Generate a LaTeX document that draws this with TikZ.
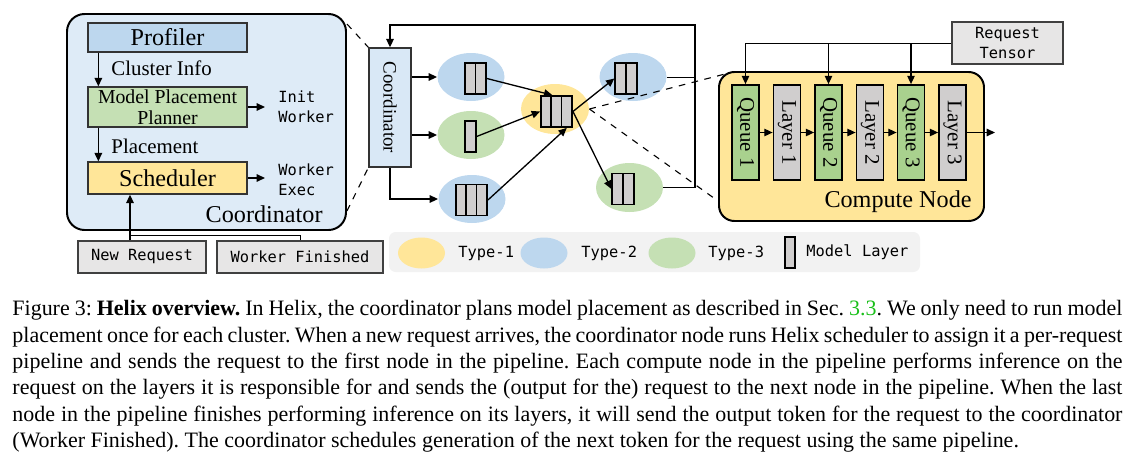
\documentclass[tikz,border=0pt]{standalone}
\usepackage{fontspec}
\usepackage{graphicx}
\setmainfont{Liberation Serif}
\setmonofont{DejaVu Sans Mono}
\usetikzlibrary{arrows.meta,shapes.geometric}
\definecolor{coordbg}{HTML}{DEEBF7}
\definecolor{blueish}{HTML}{BDD7EE}
\definecolor{greenish}{HTML}{C5E0B4}
\definecolor{yellowish}{HTML}{FFE699}
\definecolor{queuegreen}{HTML}{A9D18E}
\definecolor{layergray}{HTML}{D0CECE}
\definecolor{boxgray}{HTML}{E7E6E6}
\definecolor{legendbg}{HTML}{F2F2F2}
\definecolor{citegreen}{rgb}{0.1,0.75,0.1}
\def\pxl{0.455pt}
\frenchspacing
\tikzset{
  arr/.style={-{Triangle[length=3.8pt,width=3.4pt]}, line width=0.6pt},
  blk/.style={draw=black!80, line width=0.6pt, inner sep=0pt, font=\fontsize{11}{13}\selectfont},
  bigbox/.style={draw=black, line width=0.9pt, rounded corners=8pt, inner sep=0pt},
  graybox/.style={draw=black!75, line width=0.6pt, fill=boxgray, inner sep=0pt, font=\fontsize{7}{9}\ttfamily},
  mono/.style={font=\fontsize{7}{9}\ttfamily, inner sep=0pt, align=left},
  ell/.style={ellipse, inner sep=0pt, minimum width={67*\pxl}, minimum height={48*\pxl}},
  lyr/.style={draw=black, line width=0.8pt, fill=layergray, inner sep=0pt, minimum width={10.5*\pxl}, minimum height={31*\pxl}},
  stage/.style={draw=black, line width=0.8pt, inner sep=0pt, minimum width={27*\pxl}, minimum height={95*\pxl}, font=\fontsize{9.5}{11}\selectfont},
}
\begin{document}
\begin{tikzpicture}[x=0.455pt,y=-0.455pt]
\useasboundingbox (0,0) rectangle (1129,460);
% coordinator internals
\node[bigbox, fill=coordbg, minimum width={279*\pxl}, minimum height={216*\pxl}] (coordbox) at (206.5,122) {};
\node[anchor=east, inner sep=0pt, font=\fontsize{11}{13}\selectfont] (coordlbl) at (323,214) {Coordinator};
\node[blk, fill=blueish, minimum width={159*\pxl}, minimum height={29*\pxl}] (prof) at (167.5,37.5) {Profiler};
\node[blk, fill=greenish, minimum width={159*\pxl}, minimum height={40*\pxl}, align=center, font=\fontsize{9}{9.5}\selectfont] (mpp) at (167.5,107) {Model Placement\\Planner};
\node[blk, fill=yellowish, minimum width={159*\pxl}, minimum height={32*\pxl}] (sched) at (167.5,178) {Scheduler};
\draw[arr] ([xshift=11*\pxl]prof.south west) -- ([xshift=11*\pxl]mpp.north west);
\draw[arr] ([xshift=11*\pxl]mpp.south west) -- ([xshift=11*\pxl]sched.north west);
\node[anchor=west, inner sep=0pt, font=\fontsize{9.5}{11}\selectfont] (clinfo) at (111,68) {Cluster Info};
\node[anchor=west, inner sep=0pt, font=\fontsize{9.5}{11}\selectfont] (plc) at (111,146) {Placement};
\node[mono, anchor=west, inner xsep={13*\pxl}] (initw) at (265,107) {Init\\Worker};
\node[mono, anchor=west, inner xsep={13*\pxl}] (wexec) at (265,179.5) {Worker\\Exec};
\draw[arr] (mpp.east) -- (mpp.east -| initw.west);
\draw[arr] (sched.east) -- (sched.east -| wexec.west);
% inputs
\node[graybox, minimum width={128*\pxl}, minimum height={32*\pxl}] (newreq) at (142,257) {New Request};
\node[graybox, minimum width={166*\pxl}, minimum height={32*\pxl}] (wfin) at (300,257) {Worker Finished};
\coordinate (joint) at (130,235);
\draw (wfin.north) |- (joint);
\draw[arr] (joint |- newreq.north) -- (joint |- sched.south);
% cluster
\node[blk, fill=coordbg!85!blueish, minimum width={42*\pxl}, minimum height={119*\pxl}, font=\fontsize{8.6}{10}\selectfont] (coordv) at (390,107.5) {\rotatebox{-90}{Coordinator}};
\draw[dashed, line width=0.5pt] ([yshift=-11*\pxl]coordbox.north east) -- (coordv.north west);
\draw[dashed, line width=0.5pt] ([yshift=20*\pxl]coordbox.south east) -- (coordv.south west);
\node[ell, fill=blueish] (e1) at (471,77) {};
\node[ell, fill=greenish] (e2) at (471,135) {};
\node[ell, fill=blueish] (e3) at (472,199) {};
\node[ell, fill=yellowish, minimum width={68*\pxl}, minimum height={50*\pxl}] (e4) at (555,109) {};
\node[ell, fill=blueish] (e5) at (633,77) {};
\node[ell, fill=greenish, minimum height={49*\pxl}] (e6) at (629.5,187.5) {};
\node[lyr] (e1a) at (470.25,78.5) {};
\node[lyr] (e1b) at (480.75,78.5) {};
\node[lyr] (e2a) at (470.5,136.5) {};
\node[lyr] (e3a) at (461.2,200) {};
\node[lyr] (e3b) at (471.5,200) {};
\node[lyr] (e3c) at (481.8,200) {};
\node[lyr] (e4a) at (546.2,111.5) {};
\node[lyr] (e4b) at (556.5,111.5) {};
\node[lyr] (e4c) at (566.8,111.5) {};
\node[lyr] (e5a) at (620.5,78.5) {};
\node[lyr] (e5b) at (631.5,78.5) {};
\node[lyr] (e6a) at (617.5,189) {};
\node[lyr] (e6b) at (628.5,189) {};
\draw[arr] (coordv.east |- e1.west) -- (e1.west);
\draw[arr] (coordv.east |- e2.west) -- (e2.west);
\draw[arr] (coordv.south) |- (e3.west);
\draw[arr] (e1b.east) -- (e4a.north east);
\draw[arr] (e2a.east) -- (e4a.west);
\draw[arr] (e3c.east) -- (e4c.south);
\draw[arr] (e4c.east) -- (e5a.west);
\draw[arr] (e4c.east) -- (e6a.west);
\coordinate (fbtop) at (695,25);
\draw (e5.east) -- (e5.east -| fbtop);
\draw[arr] (e6.east) -| (fbtop) -| (coordv.north);
% compute node
\node[bigbox, fill=yellowish, rounded corners=7pt, minimum width={265*\pxl}, minimum height={149*\pxl}] (compbox) at (851.5,146.5) {};
\node[anchor=east, inner sep=0pt, font=\fontsize{11}{13}\selectfont] (complbl) at (972,202) {Compute Node};
\draw[dashed, line width=0.5pt] (e4.east) -- ([xshift=7*\pxl,yshift=-3*\pxl]compbox.north west);
\draw[dashed, line width=0.5pt] (e4.east) -- ([yshift=21*\pxl]compbox.south west);
\foreach \i/\x in {1/745.5,2/828.5,3/911}{
  \node[stage, fill=queuegreen] (q\i) at (\x,132.5) {\rotatebox{-90}{Queue \i}};
  \node[stage, fill=layergray] (l\i) at (\x+41.5,132.5) {\rotatebox{-90}{Layer \i}};
  \draw[arr] (q\i) -- (l\i);
}
\draw[arr] (l1) -- (q2);
\draw[arr] (l2) -- (q3);
\coordinate (outp) at (995,132.5);
\draw[arr] (l3) -- (outp);
\node[graybox, minimum width={111*\pxl}, minimum height={42*\pxl}, align=center, font=\fontsize{7}{9.3}\ttfamily] (reqt) at (1007.5,43) {Request\\Tensor};
\draw (reqt.west) -- (reqt.west -| q1.north);
\foreach \i in {1,2,3}
  \draw[arr] (reqt.west -| q\i.north) -- (q\i.north);
% legend
\node[fill=legendbg, rounded corners=3pt, inner sep=0pt, minimum width={531*\pxl}, minimum height={40*\pxl}] (legend) at (654.5,252) {};
\node[ell, fill=yellowish, minimum width={47*\pxl}, minimum height={31*\pxl}] (t1) at (421.5,253) {};
\node[mono, anchor=west] (t1lbl) at (458,253) {Type-1};
\node[ell, fill=blueish, minimum width={47*\pxl}, minimum height={31*\pxl}] (t2) at (544,253) {};
\node[mono, anchor=west] (t2lbl) at (581,253) {Type-2};
\node[ell, fill=greenish, minimum width={47*\pxl}, minimum height={31*\pxl}] (t3) at (672,253) {};
\node[mono, anchor=west] (t3lbl) at (708,253) {Type-3};
\node[lyr] (t4) at (790,252.5) {};
\node[mono, anchor=west] (t4lbl) at (806,252) {Model Layer};
% caption
\node[anchor=north west, inner sep=0pt, text width={1110*\pxl}, align=justify, font=\fontsize{10}{12}\selectfont] (cap) at (12,300) {Figure 3: \textbf{Helix overview.} In Helix, the coordinator plans model placement as described in Sec.~\textcolor{citegreen}{3.3}. We only need to run model\linebreak
placement once for each cluster. When a new request arrives, the coordinator node runs Helix scheduler to assign it a per-request\linebreak
pipeline and sends the request to the first node in the pipeline. Each compute node in the pipeline performs inference on the\linebreak
request on the layers it is responsible for and sends the (output for the) request to the next node in the pipeline. When the last\linebreak
node in the pipeline finishes performing inference on its layers, it will send the output token for the request to the coordinator\linebreak
(Worker Finished). The coordinator schedules generation of the next token for the request using the same pipeline.};
\end{tikzpicture}
\end{document}
